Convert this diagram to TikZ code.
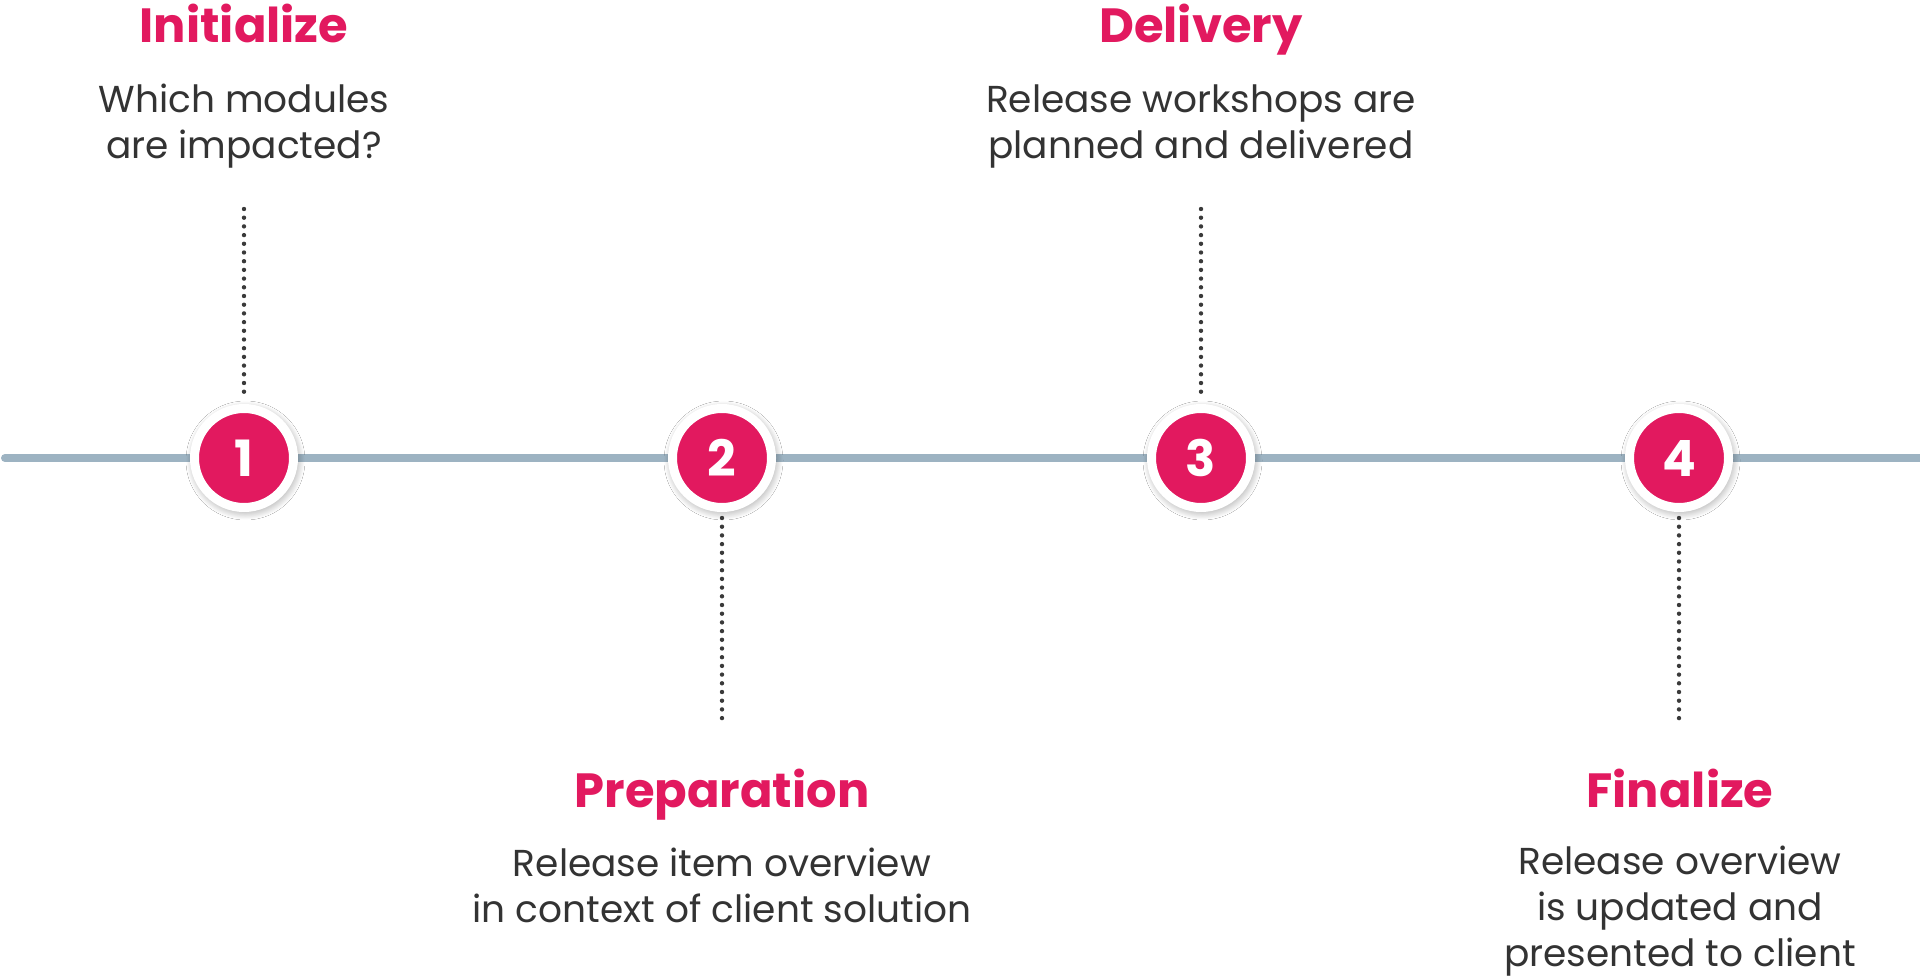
\documentclass[tikz,border=0pt]{standalone}
\usepackage{fontspec}
\setmainfont{Poppins}
\usetikzlibrary{shadows.blur}
\definecolor{pinkc}{HTML}{E2195F}
\definecolor{textc}{HTML}{333333}
\definecolor{linec}{HTML}{9DB3C2}
\definecolor{dotc}{HTML}{3A3A3A}
\tikzset{
  stepcirc/.style={circle, fill=pinkc, draw=white, line width=9pt, minimum size=99pt, inner sep=0pt,
    text=white, font=\fontsize{50}{50}\selectfont\bfseries,
    blur shadow={shadow xshift=1.5pt, shadow yshift=-2.5pt, shadow blur radius=10pt, shadow blur steps=16, shadow opacity=50}},
  heading/.style={text=pinkc, font=\fontsize{48}{48}\selectfont\bfseries, anchor=base, inner sep=0pt},
  body/.style={text=textc, font=\fontsize{37.5}{46}\selectfont, align=center, anchor=base, inner sep=0pt},
  dotline/.style={dotc, line width=4.4pt, line cap=round, dash pattern=on 0pt off 8.7pt},
  axis/.style={linec, line width=8pt, line cap=round},
}
\begin{document}
\begin{tikzpicture}[x=1pt,y=-1pt]
\useasboundingbox[fill=white] (0,0) rectangle (1920,979);
\coordinate (L) at (5,458);
\coordinate (R) at (1925,458);
\draw[axis] (L) -- (R);
\node[stepcirc] (c1) at (244,458) {1};
\node[stepcirc] (c2) at (722,458) {2};
\node[stepcirc] (c3) at (1201,458) {3};
\node[stepcirc] (c4) at (1679,458) {4};
\coordinate (d1) at (244,209);
\coordinate (d2) at (722,726);
\coordinate (d3) at (1201,209);
\coordinate (d4) at (1679,726);
\draw[dotline] (d1) -- ([yshift=6pt]c1.north);
\draw[dotline] (d3) -- ([yshift=6pt]c3.north);
\draw[dotline] ([yshift=-6pt]c2.south) -- (d2);
\draw[dotline] ([yshift=-6pt]c4.south) -- (d4);
\node[heading] (h1) at (244,43) {Initialize};
\node[body] (b1) at (244,158) {Which modules\\are impacted?};
\node[heading] (h3) at (1201,43) {Delivery};
\node[body] (b3) at (1201,158) {Release workshops are\\planned and delivered};
\node[heading] (h2) at (722,807) {Preparation};
\node[body] (b2) at (722,922) {Release item overview\\in context of client solution};
\node[heading] (h4) at (1680,807) {Finalize};
\node[body] (b4) at (1680,966) {Release overview\\is updated and\\presented to client};
\end{tikzpicture}
\end{document}
